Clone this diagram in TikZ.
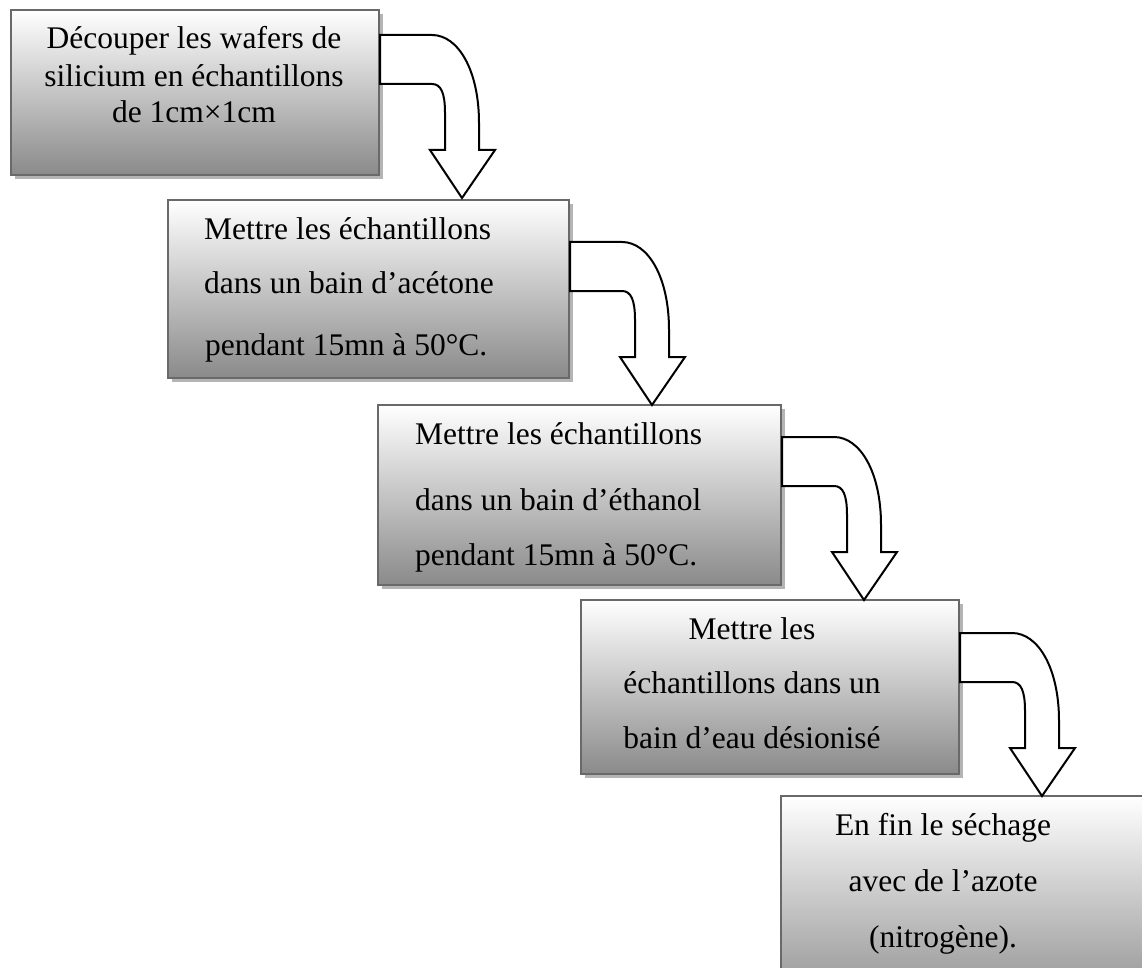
\documentclass[tikz,border=0pt]{standalone}
\usepackage{fontspec}
\setmainfont{Liberation Serif}
\usetikzlibrary{shadows,calc}
\definecolor{boxbottom}{RGB}{138,138,138}
\definecolor{boxborder}{RGB}{105,105,105}
\definecolor{shadowgray}{RGB}{180,180,180}
\tikzset{
  stepbox/.style={rectangle, anchor=north west, inner sep=0pt,
    draw=boxborder, line width=2pt, top color=white, bottom color=boxbottom,
    drop shadow={shadow xshift=4pt, shadow yshift=-4pt, fill=shadowgray, opacity=1}},
  txtc/.style={anchor=base, inner sep=0pt, font=\fontsize{31.5}{38}\selectfont},
  txtl/.style={anchor=base west, inner sep=0pt, font=\fontsize{31.5}{38}\selectfont},
  arrowline/.style={draw=black, fill=white, line width=2pt, line join=miter},
  bentarrow/.pic={
    \path[arrowline] (0,0) -- (52,0) .. controls (78,0) and (99,35) .. (99,88)
      -- (99,115) -- (115,115) -- (82,163) -- (50,115) -- (65,115) -- (65,78)
      .. controls (65,58) and (61,49) .. (52,49) -- (0,49) -- cycle;
  }
}
\begin{document}
\begin{tikzpicture}[x=1pt,y=-1pt]
\useasboundingbox (0,0) rectangle (1142,968);
\clip (0,0) rectangle (1142,968);
\fill[white] (0,0) rectangle (1142,968);

% boxes
\node[stepbox, minimum width=368pt, minimum height=165pt] (b1) at (10,9) {};
\node[stepbox, minimum width=401pt, minimum height=178pt] (b2) at (167,199) {};
\node[stepbox, minimum width=403pt, minimum height=180pt] (b3) at (377,404) {};
\node[stepbox, minimum width=378pt, minimum height=174pt] (b4) at (580,599) {};
\node[stepbox, minimum width=420pt, minimum height=220pt] (b5) at (780,795) {};

% arrows
\pic at ($(b1.north east)+(0,26)$) {bentarrow};
\pic at ($(b2.north east)+(0,43)$) {bentarrow};
\pic at ($(b3.north east)+(0,33)$) {bentarrow};
\pic at ($(b4.north east)+(0,34)$) {bentarrow};

% texts
\node[txtc] (t1a) at (194,49) {Découper les wafers de};
\node[txtc] (t1b) at (194,87) {silicium en échantillons};
\node[txtc] (t1c) at (194,123) {de 1cm×1cm};

\node[txtl] (t2a) at (204,240) {Mettre les échantillons};
\node[txtl] (t2b) at (204,293) {dans un bain d’acétone};
\node[txtl] (t2c) at (205,355) {pendant 15mn à 50°C.};

\node[txtl] (t3a) at (415,444) {Mettre les échantillons};
\node[txtl] (t3b) at (415,510) {dans un bain d’éthanol};
\node[txtl] (t3c) at (415,565) {pendant 15mn à 50°C.};

\node[txtc] (t4a) at (752,639) {Mettre les};
\node[txtc] (t4b) at (752,693) {échantillons dans un};
\node[txtc] (t4c) at (752,748) {bain d’eau désionisé};

\node[txtc] (t5a) at (943,835) {En fin le séchage};
\node[txtc] (t5b) at (943,891) {avec de l’azote};
\node[txtc] (t5c) at (943,947) {(nitrogène).};
\end{tikzpicture}
\end{document}
